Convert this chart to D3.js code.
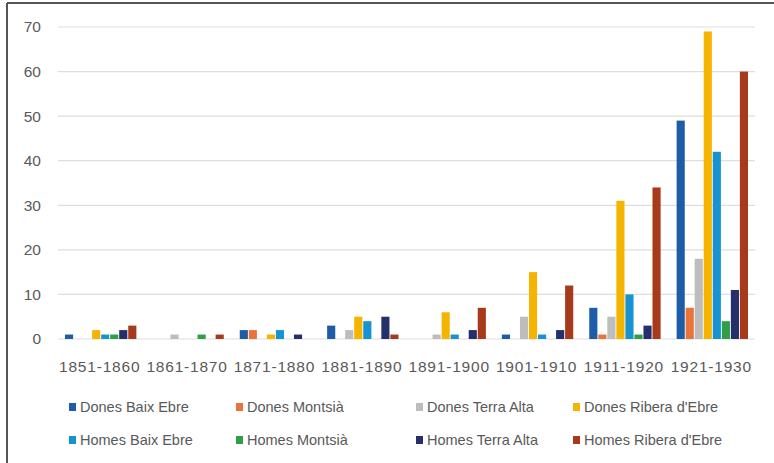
<!DOCTYPE html>
<html>
<head>
<meta charset="utf-8">
<script src="https://cdn.jsdelivr.net/npm/d3@7"></script>
<style>
  html, body { margin: 0; padding: 0; background: #fff; }
  svg { display: block; }
</style>
</head>
<body>
<svg id="chart" width="774" height="463"></svg>
<script>
const categories = ["1851-1860","1861-1870","1871-1880","1881-1890","1891-1900","1901-1910","1911-1920","1921-1930"];
const seriesNames = ["Dones Baix Ebre","Dones Montsià","Dones Terra Alta","Dones Ribera d'Ebre","Homes Baix Ebre","Homes Montsià","Homes Terra Alta","Homes Ribera d'Ebre"];
const seriesColors = ["#1f5ca8","#e8743b","#bdbdbd","#f5b400","#1693d0","#2f9e44","#252f6b","#a83a1c"];
const donesBaixEbre    = [1, 0, 2, 3, 0, 1, 7, 49];
const donesMontsia     = [0, 0, 2, 0, 0, 0, 1, 7];
const donesTerraAlta   = [0, 1, 0, 2, 1, 5, 5, 18];
const donesRiberaEbre  = [2, 0, 1, 5, 6, 15, 31, 69];
const homesBaixEbre    = [1, 0, 2, 4, 1, 1, 10, 42];
const homesMontsia     = [1, 1, 0, 0, 0, 0, 1, 4];
const homesTerraAlta   = [2, 0, 1, 5, 2, 2, 3, 11];
const homesRiberaEbre  = [3, 1, 0, 1, 7, 12, 34, 60];
const yTicks = [0, 10, 20, 30, 40, 50, 60, 70];

const seriesValues = [donesBaixEbre, donesMontsia, donesTerraAlta, donesRiberaEbre,
                      homesBaixEbre, homesMontsia, homesTerraAlta, homesRiberaEbre];

const svg = d3.select("#chart");
const textColor = "#595959";

// frame
svg.append("line").attr("x1", 7).attr("x2", 7).attr("y1", 3).attr("y2", 463)
  .attr("stroke", "#555").attr("stroke-width", 2);
svg.append("line").attr("x1", 7).attr("x2", 774).attr("y1", 3).attr("y2", 3)
  .attr("stroke", "#555").attr("stroke-width", 2);

const plot = { left: 56, right: 755, top: 27, bottom: 339 };

const x0 = d3.scaleBand().domain(categories).range([plot.left, plot.right]).padding(0);
const x1 = d3.scaleBand().domain(d3.range(seriesNames.length))
  .range([9, x0.bandwidth() - 7]).paddingInner(0.1).paddingOuter(0);
const y = d3.scaleLinear().domain([0, 70]).range([plot.bottom, plot.top]);

// gridlines
svg.append("g").selectAll("line").data(yTicks).join("line")
  .attr("x1", plot.left + 2).attr("x2", plot.right)
  .attr("y1", d => y(d)).attr("y2", d => y(d))
  .attr("stroke", "#dedede").attr("stroke-width", 1.2);

// y labels
svg.append("g").selectAll("text").data(yTicks).join("text")
  .attr("x", 41).attr("y", d => y(d)).attr("dy", "0.35em")
  .attr("text-anchor", "end")
  .attr("font-family", "Liberation Sans, Arial, sans-serif")
  .attr("font-size", 15.5).attr("fill", textColor)
  .text(d => d);

// bars
const groups = svg.append("g").selectAll("g").data(categories).join("g")
  .attr("transform", c => `translate(${x0(c)},0)`);
groups.selectAll("rect")
  .data((c, ci) => seriesValues.map((vals, si) => ({ si, v: vals[ci] })))
  .join("rect")
  .attr("x", d => x1(d.si))
  .attr("width", x1.bandwidth())
  .attr("y", d => y(d.v))
  .attr("height", d => y(0) - y(d.v))
  .attr("fill", d => seriesColors[d.si]);

// x labels
svg.append("g").selectAll("text").data(categories).join("text")
  .attr("x", c => x0(c) + x0.bandwidth() / 2)
  .attr("y", 372)
  .attr("text-anchor", "middle")
  .attr("font-family", "Liberation Sans, Arial, sans-serif")
  .attr("font-size", 15.5).attr("fill", textColor)
  .attr("letter-spacing", 0.8)
  .text(c => c);

// legend
const legendX = [69, 236, 416, 573];
const legendY = [407, 440];
const legend = svg.append("g").selectAll("g").data(seriesNames).join("g")
  .attr("transform", (d, i) => `translate(${legendX[i % 4]},${legendY[Math.floor(i / 4)]})`);
legend.append("rect").attr("x", 0).attr("y", -4).attr("width", 7).attr("height", 8)
  .attr("fill", (d, i) => seriesColors[i]);
legend.append("text").attr("x", 11).attr("y", 0).attr("dy", "0.35em")
  .attr("font-family", "Liberation Sans, Arial, sans-serif")
  .attr("font-size", 14.5).attr("fill", textColor)
  .text(d => d);
</script>
</body>
</html>
